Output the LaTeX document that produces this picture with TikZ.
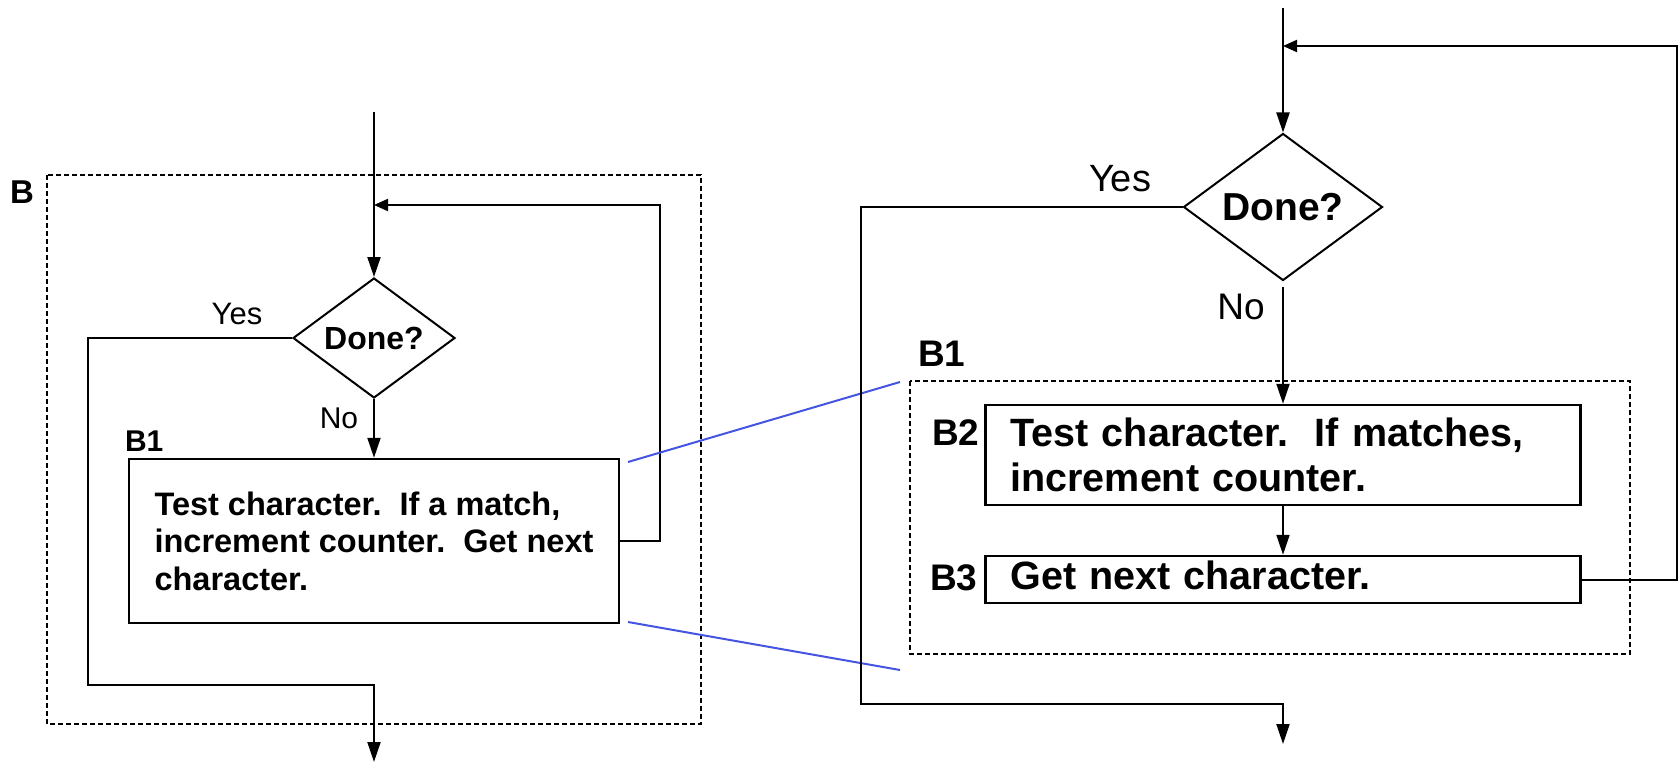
\documentclass[tikz,border=0pt]{standalone}
\usepackage{fontspec}
\setmainfont{Liberation Sans}
\usetikzlibrary{shapes.geometric,arrows.meta}
\definecolor{zoomblue}{RGB}{70,85,225}
\begin{document}
\begin{tikzpicture}[x=1pt,y=-1pt,line width=2pt,every node/.style={inner sep=0pt},
 bf/.style={font=\fontsize{#1}{#1}\selectfont\bfseries},
 rm/.style={font=\fontsize{#1}{#1}\selectfont},
 decision/.style={diamond,draw,aspect=1.35},
 procbox/.style={draw,line width=2.5pt,align=left},
 frame/.style={dash pattern=on 5pt off 3pt,line width=1.8pt},
 flow/.style={-{Triangle[length=20pt,width=13pt]}},
 back/.style={-{Triangle[length=14pt,width=12pt]}},
 zoom/.style={zoomblue,line width=2pt},
 tag/.style={anchor=base west}]
 \useasboundingbox (0,0) rectangle (1679,764);
 \draw [frame] (47,175) rectangle (701,724);
 \draw [frame] (910,381) rectangle (1630,654);
 \node [tag,bf=33] (lb) at (9,203) {B};
 \node [decision,bf=32,minimum width=162pt,minimum height=120pt] (d1) at (374,338) {Done?};
 \node [procbox,font=\fontsize{32.5}{37.5}\selectfont\bfseries,minimum width=490pt,minimum height=164pt] (b1box) at (374,541) {Test character.\ \ If a match,\\increment counter.\ \ Get next\\character.};
 \node [tag,bf=30] (lb1) at (124,451) {B1};
 \node [anchor=base,rm=31] (lyes) at (237,324) {Yes};
 \node [anchor=base,rm=30] (lno) at (339,428) {No};
 \coordinate (lin) at (374,112);
 \coordinate (ljoin) at (374,205);
 \coordinate (lloop) at (660,205);
 \coordinate (lcorner) at (88,685);
 \coordinate (lout) at (374,762);
 \draw [flow] (lin) -- (d1);
 \draw [flow] (d1) -- (b1box);
 \draw [back] (b1box.east) -| (lloop) -- (ljoin);
 \draw [flow] (d1.west) -| (lcorner) -| (lout);
 \coordinate (za) at (628,462);
 \coordinate (zb) at (900,382);
 \coordinate (zc) at (628,622);
 \coordinate (zd) at (900,670);
 \draw [zoom] (za) -- (zb);
 \draw [zoom] (zc) -- (zd);
 \node [decision,bf=39,minimum width=199pt,minimum height=147pt] (d2) at (1283,207) {Done?};
 \node [procbox,font=\fontsize{39.5}{45}\selectfont\bfseries,text width=545pt,minimum width=595pt,minimum height=100pt] (b2) at (1283,455) {Test character.\ \ If matches,\\increment counter.};
 \node [procbox,font=\fontsize{39.5}{45}\selectfont\bfseries,text width=545pt,minimum width=595pt,minimum height=47pt,text depth=8pt] (b3) at (1283,579.5) {Get next character.};
 \node [tag,bf=37] (rb1) at (917,366) {B1};
 \node [tag,bf=37] (rb2) at (931,445) {B2};
 \node [tag,bf=37] (rb3) at (929,590) {B3};
 \node [anchor=base,rm=38] (ryes) at (1120,191) {Yes};
 \node [anchor=base,rm=37] (rno) at (1241,319) {No};
 \coordinate (rin) at (1283,8);
 \coordinate (rjoin) at (1283,46);
 \coordinate (rloop) at (1677,46);
 \coordinate (rcorner) at (861,704);
 \coordinate (rout) at (1283,744);
 \draw [flow] (rin) -- (d2);
 \draw [flow,shorten <=5pt] (d2) -- (b2);
 \draw [flow] (b2) -- (b3);
 \draw [back] (b3.east) -| (rloop) -- (rjoin);
 \draw [flow] (d2.west) -| (rcorner) -| (rout);
\end{tikzpicture}
\end{document}
